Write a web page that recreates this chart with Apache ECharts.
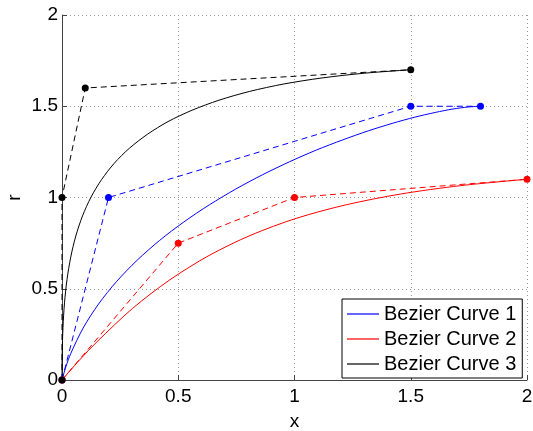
<!DOCTYPE html>
<html>
<head>
<meta charset="utf-8">
<script src="https://cdn.jsdelivr.net/npm/echarts@6/dist/echarts.min.js"></script>
<style>html,body{margin:0;padding:0;background:#fff;}#c{width:533px;height:431px;}</style>
</head>
<body>
<div id="c"></div>
<script>
// Control polygons
const ctrl1 = [[0, 0], [0.2, 1], [1.5, 1.5], [1.8, 1.5]];
const ctrl2 = [[0, 0], [0.5, 0.75], [1, 1], [2, 1.1]];
const ctrl3 = [[0, 0], [0, 1], [0.1, 1.6], [1.5, 1.7]];

// Points
const curve1 = [[0, 0], [0.017, 0.074], [0.038, 0.146], [0.091, 0.285], [0.157, 0.416], [0.235, 0.54], [0.323, 0.656], [0.42, 0.765], [0.524, 0.866], [0.634, 0.96], [0.747, 1.046], [0.863, 1.125], [0.979, 1.196], [1.094, 1.26], [1.208, 1.316], [1.317, 1.365], [1.42, 1.406], [1.517, 1.44], [1.605, 1.466], [1.682, 1.485], [1.748, 1.496], [1.8, 1.5]];
const curve2 = [[0, 0], [0.075, 0.109], [0.151, 0.21], [0.304, 0.393], [0.464, 0.549], [0.632, 0.682], [0.813, 0.794], [1.008, 0.886], [1.222, 0.96], [1.456, 1.019], [1.715, 1.065], [2, 1.1]];
const curve3 = [[0, 0], [0.0002, 0.074], [0.0009, 0.147], [0.0042, 0.288], [0.0108, 0.423], [0.0216, 0.551], [0.0375, 0.673], [0.0594, 0.789], [0.0882, 0.899], [0.1248, 1.002], [0.1701, 1.098], [0.225, 1.188], [0.29, 1.27], [0.367, 1.346], [0.456, 1.416], [0.559, 1.478], [0.675, 1.533], [0.806, 1.581], [0.954, 1.622], [1.118, 1.655], [1.3, 1.681], [1.5, 1.7]];

const names = ['Bezier Curve 1', 'Bezier Curve 2', 'Bezier Curve 3'];
const colors = ['#0000ff', '#ff0000', '#000000'];
const xTicks = [0, 0.5, 1, 1.5, 2];
const yTicks = [0, 0.5, 1, 1.5, 2];

const FONT = "'Liberation Sans', Arial, Helvetica, sans-serif";
const curves = [curve1, curve2, curve3];
const ctrls = [ctrl1, ctrl2, ctrl3];

const series = [];
for (let i = 0; i < 3; i++) {
  series.push({
    name: names[i], type: 'line', data: curves[i], symbol: 'none', smooth: 0.3,
    lineStyle: { color: colors[i], width: 1 }, itemStyle: { color: colors[i] },
    animation: false, z: 2
  });
  series.push({
    name: 'ctrl' + (i + 1), type: 'line', data: ctrls[i], symbol: 'circle', symbolSize: 7,
    showAllSymbol: true,
    lineStyle: { color: colors[i], width: 1, type: [6, 4] }, itemStyle: { color: colors[i] },
    animation: false, z: 3
  });
}

const axisCommon = {
  type: 'value', min: 0, max: 2, interval: 0.5,
  nameLocation: 'middle',
  nameMoveOverlap: false,
  nameTextStyle: { fontFamily: FONT, fontSize: 19, color: '#000' },
  axisLine: { show: true, lineStyle: { color: '#444', width: 1 } },
  axisTick: { show: true, inside: true, length: 5, lineStyle: { color: '#444' } },
  splitLine: { show: true, lineStyle: { color: '#999', type: [1, 3], width: 1 } },
};

const chart = echarts.init(document.getElementById('c'), null, { renderer: 'canvas' });
chart.setOption({
  backgroundColor: '#fff',
  animation: false,
  grid: { left: 62, right: 6, top: 15, bottom: 51, containLabel: false, outerBoundsMode: 'none' },
  legend: {
    data: names.map(n => ({ name: n, icon: 'rect' })),
    orient: 'vertical', left: 342, top: 299,
    itemWidth: 32, itemHeight: 1.2, itemGap: 5,
    padding: [5, 6, 4, 5],
    backgroundColor: '#fff',
    borderColor: '#000', borderWidth: 1, borderRadius: 0,
    textStyle: { fontFamily: FONT, fontSize: 20, color: '#000', lineHeight: 19 }
  },
  xAxis: Object.assign({}, axisCommon, {
    name: 'x', nameGap: 32,
    axisLabel: { fontFamily: FONT, fontSize: 19, color: '#000', margin: 7,
      formatter: v => (xTicks.indexOf(v) >= 0 ? String(v) : '') }
  }),
  yAxis: Object.assign({}, axisCommon, {
    name: 'r', nameGap: 38, nameRotate: 90,
    axisLabel: { fontFamily: FONT, fontSize: 19, color: '#000', margin: 4,
      formatter: v => (yTicks.indexOf(v) >= 0 ? String(v) : '') }
  }),
  series: series
});
</script>
</body>
</html>
